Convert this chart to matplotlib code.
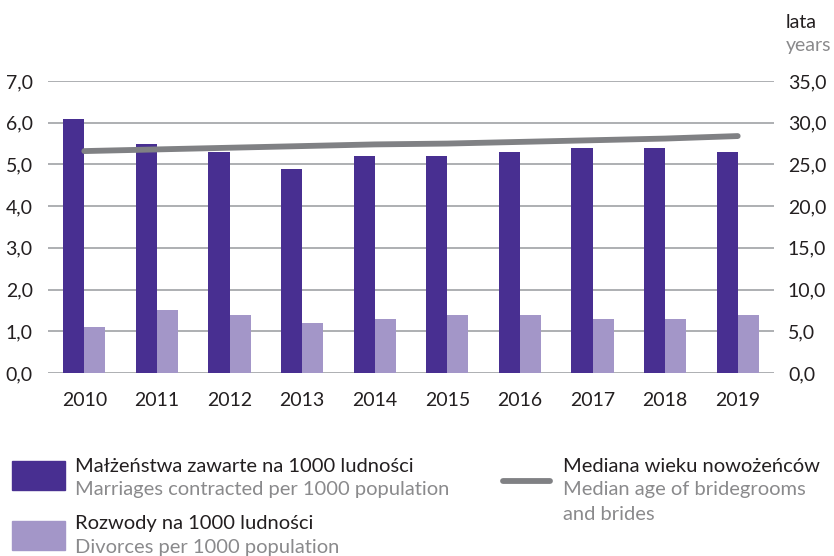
import numpy as np
import matplotlib
matplotlib.use("Agg")
import matplotlib.pyplot as plt
from matplotlib.ticker import FuncFormatter

plt.rcParams["font.family"] = ["Lato", "DejaVu Sans"]

years = ["2010", "2011", "2012", "2013", "2014", "2015", "2016", "2017", "2018", "2019"]
marriages = [6.1, 5.5, 5.3, 4.9, 5.2, 5.2, 5.3, 5.4, 5.4, 5.3]
divorces = [1.1, 1.5, 1.4, 1.2, 1.3, 1.4, 1.4, 1.3, 1.3, 1.4]
median_age = [26.6, 26.8, 27.0, 27.2, 27.4, 27.5, 27.7, 27.9, 28.1, 28.4]

dark = "#482f91"
light = "#a396c8"
line_gray = "#808184"
text_dark = "#231f20"
text_gray = "#8a8a8c"

fig = plt.figure(figsize=(8.34, 5.56), dpi=100)
ax = fig.add_axes([48 / 834, 1 - 373 / 556, 726 / 834, 292 / 556])

x = np.arange(len(years))
w = 0.29
ax.bar(x - w / 2, marriages, width=w, color=dark, zorder=3)
ax.bar(x + w / 2, divorces, width=w, color=light, zorder=3)

ax.set_xlim(-0.5, len(years) - 0.5)
ax.set_ylim(0, 7)
ax.set_yticks(np.arange(0, 7.01, 1))
ax.yaxis.set_major_formatter(FuncFormatter(lambda v, _: f"{v:.1f}".replace(".", ",")))
ax.set_xticks(x)
ax.set_xticklabels(years)
ax.grid(axis="y", color="#a7a9ac", linewidth=1.3, zorder=0)
for s in ax.spines.values():
    s.set_visible(False)
ax.tick_params(axis="both", length=0, labelsize=14, colors=text_dark)
ax.tick_params(axis="y", pad=11)
ax.tick_params(axis="x", pad=14)

ax2 = ax.twinx()
ax2.plot(x, median_age, color=line_gray, linewidth=4.2, solid_capstyle="round", zorder=4)
ax2.set_ylim(0, 35)
ax2.set_yticks(np.arange(0, 35.01, 5))
ax2.yaxis.set_major_formatter(FuncFormatter(lambda v, _: f"{v:.1f}".replace(".", ",")))
for s in ax2.spines.values():
    s.set_visible(False)
ax2.tick_params(axis="y", length=0, labelsize=14, colors=text_dark, pad=10)

fig.text(786 / 834, 1 - 22 / 556, "lata", fontsize=14, color=text_dark, va="center", ha="left")
fig.text(786 / 834, 1 - 46 / 556, "years", fontsize=14, color=text_gray, va="center", ha="left")

# legend
fig.patches.append(plt.Rectangle((12 / 834, 1 - 490 / 556), 53 / 834, 29 / 556,
                                 transform=fig.transFigure, color=dark))
fig.patches.append(plt.Rectangle((12 / 834, 1 - 550 / 556), 53 / 834, 29 / 556,
                                 transform=fig.transFigure, color=light))
fig.add_artist(plt.Line2D([503 / 834, 550 / 834], [1 - 481 / 556, 1 - 481 / 556],
                          transform=fig.transFigure, color=line_gray, linewidth=4.2,
                          solid_capstyle="round"))

legend_texts = [
    (75, 466, "Małżeństwa zawarte na 1000 ludności", text_dark),
    (75, 490, "Marriages contracted per 1000 population", text_gray),
    (75, 523, "Rozwody na 1000 ludności", text_dark),
    (75, 547, "Divorces per 1000 population", text_gray),
    (563, 466, "Mediana wieku nowożeńców", text_dark),
    (563, 490, "Median age of bridegrooms", text_gray),
    (563, 515, "and brides", text_gray),
]
for tx, ty, s, c in legend_texts:
    fig.text(tx / 834, 1 - ty / 556, s, fontsize=14.5, color=c, va="center", ha="left")

fig.savefig("out.png", dpi=100)
